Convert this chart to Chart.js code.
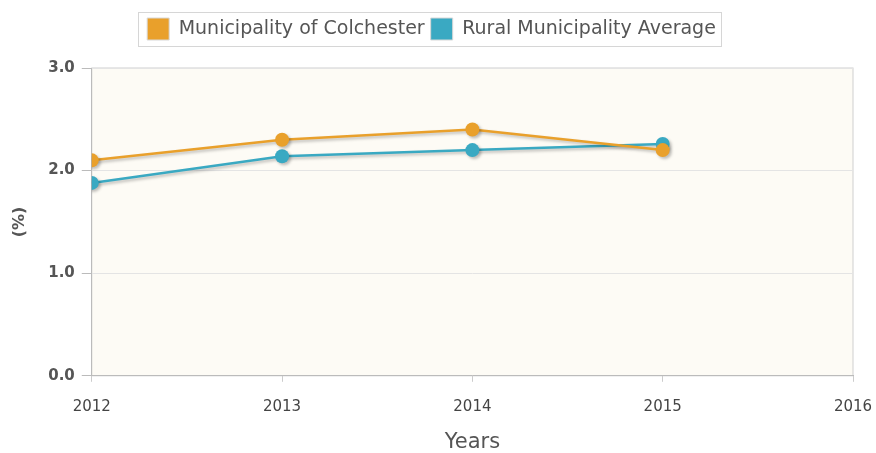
<!DOCTYPE html>
<html>
<head>
<meta charset="utf-8">
<script src="https://cdn.jsdelivr.net/npm/chart.js@4"></script>
<style>
  html, body { margin: 0; padding: 0; background: #ffffff; }
  #wrap { width: 876px; height: 453px; }
</style>
</head>
<body>
<div id="wrap"><canvas id="myChart"></canvas></div>
<script>
const years = [2012, 2013, 2014, 2015];
const colchester = [2.1, 2.3, 2.4, 2.2];
const ruralAverage = [1.88, 2.14, 2.2, 2.26];
const seriesNames = ["Municipality of Colchester", "Rural Municipality Average"];

const orange = "#E9A02B";
const teal = "#3AA9C2";

// extra space under the legend
const legendGap = {
  id: "legendGap",
  beforeInit(chart) {
    const fit = chart.legend.fit;
    chart.legend.fit = function () {
      fit.bind(chart.legend)();
      this.height += 18;
    };
  }
};

// plot background, frame, legend frame, point shadows
const decor = {
  id: "decor",
  beforeDraw(chart) {
    const { ctx, chartArea } = chart;
    ctx.save();
    ctx.fillStyle = "#FDFBF5";
    ctx.fillRect(chartArea.left, chartArea.top, chartArea.right - chartArea.left, chartArea.bottom - chartArea.top);
    ctx.strokeStyle = "#cfcfcf";
    ctx.lineWidth = 1;
    ctx.strokeRect(chartArea.left, chartArea.top, chartArea.right - chartArea.left, chartArea.bottom - chartArea.top);
    const boxes = chart.legend.legendHitBoxes;
    if (boxes && boxes.length) {
      const l = Math.min(...boxes.map(b => b.left)) - 9;
      const r = Math.max(...boxes.map(b => b.left + b.width)) + 5;
      const t = boxes[0].top - 6;
      const h = boxes[0].height + 12;
      ctx.strokeStyle = "#d6d6d6";
      ctx.strokeRect(Math.round(l) + 0.5, Math.round(t) + 0.5, Math.round(r - l), Math.round(h));
    }
    ctx.restore();
  },
  beforeDatasetsDraw(chart) {
    const ctx = chart.ctx;
    ctx.save();
    ctx.shadowColor = "rgba(0,0,0,0.25)";
    ctx.shadowBlur = 3;
    ctx.shadowOffsetX = 2;
    ctx.shadowOffsetY = 2;
  },
  afterDatasetsDraw(chart) {
    chart.ctx.restore();
  }
};

new Chart(document.getElementById("myChart").getContext("2d"), {
  type: "line",
  data: {
    datasets: [
      {
        label: seriesNames[0],
        data: years.map((y, i) => ({ x: y, y: colchester[i] })),
        borderColor: orange,
        backgroundColor: orange,
        borderWidth: 2.5,
        pointRadius: 7,
        pointBorderWidth: 0,
        pointHoverRadius: 7,
        tension: 0
      },
      {
        label: seriesNames[1],
        data: years.map((y, i) => ({ x: y, y: ruralAverage[i] })),
        borderColor: teal,
        backgroundColor: teal,
        borderWidth: 2.5,
        pointRadius: 7,
        pointBorderWidth: 0,
        pointHoverRadius: 7,
        tension: 0
      }
    ]
  },
  options: {
    responsive: true,
    maintainAspectRatio: false,
    animation: false,
    layout: { padding: { left: 10, right: 23, top: 12, bottom: -2 } },
    plugins: {
      tooltip: { enabled: false },
      legend: {
        position: "top",
        labels: {
          boxWidth: 22,
          boxHeight: 22,
          padding: 6,
          color: "#555555",
          font: { family: "DejaVu Sans", size: 19 },
          generateLabels(chart) {
            return chart.data.datasets.map((ds, i) => ({
              text: ds.label,
              fontColor: "#555555",
              fillStyle: ds.borderColor,
              strokeStyle: "#d8d8d8",
              lineWidth: 1,
              datasetIndex: i
            }));
          }
        }
      }
    },
    scales: {
      x: {
        type: "linear",
        min: 2012,
        max: 2016,
        afterFit(scale) {
          scale.paddingLeft = 0;
          scale.paddingRight = 0;
        },
        ticks: {
          stepSize: 1,
          color: "#444444",
          padding: 16,
          font: { family: "DejaVu Sans", size: 15 },
          callback: (v) => String(v)
        },
        grid: { display: true, drawOnChartArea: false, drawTicks: true, tickLength: 6, tickColor: "#cccccc" },
        border: { color: "#bbbbbb" },
        title: {
          display: true,
          text: "Years",
          color: "#555555",
          font: { family: "DejaVu Sans", size: 21 },
          padding: { top: -2, bottom: 0 }
        }
      },
      y: {
        min: 0,
        max: 3,
        ticks: {
          stepSize: 1,
          color: "#555555",
          padding: 7,
          font: { family: "DejaVu Sans", size: 15, weight: "bold" },
          callback: (v) => v.toFixed(1)
        },
        grid: { color: "#e4e4e4", tickLength: 10, tickColor: "#bbbbbb" },
        border: { color: "#bbbbbb" },
        title: {
          display: true,
          text: "(%)",
          color: "#555555",
          font: { family: "DejaVu Sans", size: 16, weight: "bold" },
          padding: { top: 0, bottom: 12 }
        }
      }
    }
  },
  plugins: [legendGap, decor]
});
</script>
</body>
</html>
